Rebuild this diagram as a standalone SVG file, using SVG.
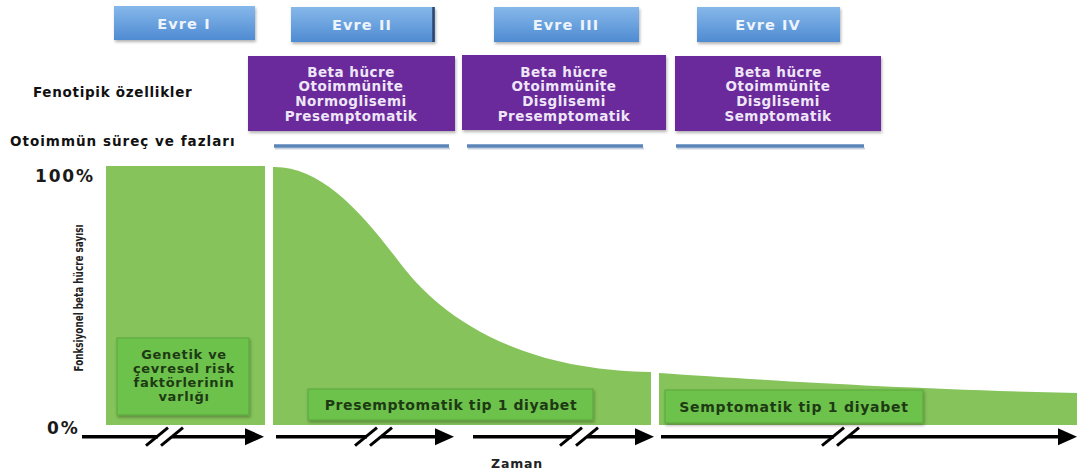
<svg xmlns="http://www.w3.org/2000/svg" width="1079" height="475" viewBox="0 0 1079 475">
<defs>
<linearGradient id="blueGrad" x1="0" y1="0" x2="0" y2="1">
<stop offset="0" stop-color="#86b8ea"/>
<stop offset="1" stop-color="#4f8bd2"/>
</linearGradient>
<filter id="shadow" x="-10%" y="-20%" width="120%" height="150%">
<feDropShadow dx="1" dy="2" stdDeviation="1.5" flood-color="#000" flood-opacity="0.3"/>
</filter>
<marker id="head" markerWidth="20" markerHeight="18" refX="0" refY="8.5" orient="auto" markerUnits="userSpaceOnUse">
<path d="M0,0 L19,8.5 L0,17 Z" fill="#000"/>
</marker>
</defs>
<style>
text{font-family:"DejaVu Sans","Liberation Sans",sans-serif;font-weight:bold}
.evre rect{fill:url(#blueGrad);filter:url(#shadow)}
.evre text{fill:#eef4fc;font-size:14.5px;letter-spacing:1.1px;text-anchor:middle}
.pheno rect{fill:#6a2c9c;filter:url(#shadow)}
.pheno text{fill:#eee6f6;font-size:13.5px;letter-spacing:0.5px;text-anchor:middle}
.lbl{fill:#111;font-size:13.5px}
.phase{stroke:#5b84b8;stroke-width:3.5}
.phase-sh{stroke:#c9d3df;stroke-width:2}
.panel{fill:#86c35a}
.gbox rect{fill:#6dc24b;stroke:#5aa53d;stroke-width:1;filter:url(#shadow)}
.gbox text{fill:#1d3a14;text-anchor:middle}
.axis{stroke:#000;stroke-width:3.5;fill:none}
.slash{stroke:#000;stroke-width:3}
.pct{fill:#1a1a1a;font-size:17px;letter-spacing:1.8px}
</style>
<rect width="1079" height="475" fill="#fff"/>

<g id="evre-1" class="evre"><rect x="114" y="6" width="141" height="34"/><text x="184" y="29">Evre I</text></g>
<g id="evre-2" class="evre"><rect x="291" y="7" width="144" height="35"/><line x1="433.5" y1="7" x2="433.5" y2="42" stroke="#2b4670" stroke-width="2.5"/><text x="362" y="30">Evre II</text></g>
<g id="evre-3" class="evre"><rect x="494" y="7" width="145" height="35"/><text x="566" y="30">Evre III</text></g>
<g id="evre-4" class="evre"><rect x="697" y="7" width="143" height="35"/><text x="768" y="30">Evre IV</text></g>

<g id="label-fenotipik"><text class="lbl" x="33" y="97" style="letter-spacing:0.7px">Fenotipik özellikler</text></g>
<g id="label-otoimmun"><text class="lbl" x="10" y="146" style="letter-spacing:1px">Otoimmün süreç ve fazları</text></g>

<g id="pheno-2" class="pheno"><rect x="248" y="56" width="207" height="75"/>
<text x="351" y="76.5">Beta hücre</text><text x="351" y="91">Otoimmünite</text><text x="351" y="105.5">Normoglisemi</text><text x="351" y="120.5">Presemptomatik</text></g>
<g id="pheno-3" class="pheno"><rect x="462" y="55" width="204" height="75"/>
<text x="564" y="76.5">Beta hücre</text><text x="564" y="91">Otoimmünite</text><text x="564" y="105.5">Disglisemi</text><text x="564" y="120.5">Presemptomatik</text></g>
<g id="pheno-4" class="pheno"><rect x="675" y="56" width="206" height="75"/>
<text x="778" y="76.5">Beta hücre</text><text x="778" y="91">Otoimmünite</text><text x="778" y="105.5">Disglisemi</text><text x="778" y="120.5">Semptomatik</text></g>

<g id="phase-lines">
<line class="phase-sh" x1="275" y1="148.5" x2="450" y2="148.5"/>
<line class="phase-sh" x1="468" y1="148.5" x2="644" y2="148.5"/>
<line class="phase-sh" x1="677" y1="148.5" x2="865" y2="148.5"/>
<line class="phase" x1="274" y1="146" x2="449" y2="146"/>
<line class="phase" x1="467" y1="146" x2="643" y2="146"/>
<line class="phase" x1="676" y1="146" x2="864" y2="146"/>
</g>

<g id="chart">
<rect id="panel-1" class="panel" x="106" y="166" width="159" height="259"/>
<path id="panel-2" class="panel" d="M273,425 L273,167 C320,166 360,210 400,263 C430,302.8 500,370 651,372 L651,425 Z"/>
<path id="panel-3" class="panel" d="M659,425 L659,373 C760,380 900,389 1077,393 L1077,425 Z"/>
</g>

<g id="ylabel"><text transform="translate(83,298) rotate(-90)" text-anchor="middle" textLength="147" lengthAdjust="spacingAndGlyphs" style="font-family:'DejaVu Sans Condensed','Liberation Sans Narrow','Liberation Sans',sans-serif;font-size:12.5px;font-weight:bold;fill:#222">Fonksiyonel beta hücre sayısı</text></g>
<g id="pct-100"><text class="pct" x="35" y="182">100%</text></g>
<g id="pct-0"><text class="pct" x="47" y="434">0%</text></g>

<g id="box-genetik" class="gbox"><rect x="117" y="338" width="132" height="77"/>
<text style="font-size:13px;letter-spacing:0.7px"><tspan x="184" y="359">Genetik ve</tspan><tspan x="184" y="373">çevresel risk</tspan><tspan x="184" y="387">faktörlerinin</tspan><tspan x="184" y="401">varlığı</tspan></text></g>
<g id="box-presemptomatik" class="gbox"><rect x="308" y="389" width="285" height="31"/>
<text x="451" y="410" style="font-size:14px;letter-spacing:0.6px">Presemptomatik tip 1 diyabet</text></g>
<g id="box-semptomatik" class="gbox"><rect x="665" y="390" width="258" height="33"/>
<text x="794" y="412" style="font-size:14px;letter-spacing:0.75px">Semptomatik tip 1 diyabet</text></g>

<g id="connectors">
<line class="axis" x1="82" y1="436.7" x2="158" y2="436.7"/>
<line class="axis" x1="172" y1="436.7" x2="245" y2="436.7" marker-end="url(#head)"/>
<line class="slash" x1="146" y1="445.7" x2="168" y2="427.7"/>
<line class="slash" x1="161" y1="445.7" x2="183" y2="427.7"/>

<line class="axis" x1="276" y1="436.7" x2="367" y2="436.7"/>
<line class="axis" x1="381" y1="436.7" x2="435" y2="436.7" marker-end="url(#head)"/>
<line class="slash" x1="355" y1="445.7" x2="377" y2="427.7"/>
<line class="slash" x1="370" y1="445.7" x2="392" y2="427.7"/>

<line class="axis" x1="473" y1="436.7" x2="572" y2="436.7"/>
<line class="axis" x1="587" y1="436.7" x2="635" y2="436.7" marker-end="url(#head)"/>
<line class="slash" x1="560" y1="445.7" x2="582" y2="427.7"/>
<line class="slash" x1="576" y1="445.7" x2="598" y2="427.7"/>

<line class="axis" x1="661" y1="436.7" x2="834" y2="436.7"/>
<line class="axis" x1="848" y1="436.7" x2="1058" y2="436.7" marker-end="url(#head)"/>
<line class="slash" x1="822" y1="445.7" x2="844" y2="427.7"/>
<line class="slash" x1="837" y1="445.7" x2="859" y2="427.7"/>
</g>

<g id="xlabel"><text x="517" y="468" text-anchor="middle" style="font-size:12.5px;letter-spacing:0.8px;fill:#222">Zaman</text></g>
</svg>
